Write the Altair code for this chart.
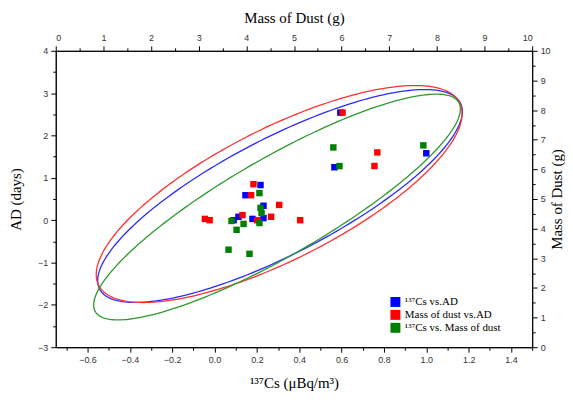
import altair as alt
import numpy as np
import pandas as pd

# ---- data ----
# Blue series: 137Cs vs AD
blue_cs = [0.217, 0.146, 0.231, 0.113, 0.090, 0.179, 0.231, 0.566, 0.594, 1.000]
blue_ad = [0.83, 0.59, 0.34, 0.08, 0.00, 0.03, 0.05, 1.25, 2.54, 1.58]
# Red series: Mass of dust vs AD
red_mass = [4.15, 4.10, 4.69, 3.13, 3.23, 3.92, 4.23, 4.52, 5.13, 6.02, 6.75, 6.69]
red_ad = [0.85, 0.59, 0.36, 0.03, 0.00, 0.12, 0.00, 0.08, 0.00, 2.54, 1.60, 1.28]
# Green series: 137Cs vs Mass of dust
green_cs = [0.212, 0.217, 0.222, 0.080, 0.137, 0.104, 0.212, 0.066, 0.165, 0.590, 0.561, 0.986]
green_mass = [5.20, 4.70, 4.53, 4.26, 4.16, 3.96, 4.19, 3.29, 3.15, 6.11, 6.74, 6.81]

# confidence ellipses: centre and two conjugate semi-diameters (own units)
blue_ellipse = [0.309, 0.571, 0.861, 1.997, 0.0, 1.527]
red_ellipse = [4.69, 0.618, 3.84, 1.903, 0.0, 1.715]
green_ellipse = [0.295, 4.73, 0.866, 3.305, 0.0, 1.893]

series_names = ["\u00b9\u00b3\u2077Cs vs.AD", "Mass of dust vs.AD", "\u00b9\u00b3\u2077Cs vs. Mass of dust"]
series_colors = ["#0000ff", "#ff0000", "#008000"]
line_colors = ["#2b2bff", "#ff3030", "#2e9a2e"]

cs_ticks = [-0.6, -0.4, -0.2, 0.0, 0.2, 0.4, 0.6, 0.8, 1.0, 1.2, 1.4]
cs_minor = [-0.7, -0.5, -0.3, -0.1, 0.1, 0.3, 0.5, 0.7, 0.9, 1.1, 1.3, 1.5]
ad_ticks = [-3, -2, -1, 0, 1, 2, 3, 4]
ad_minor = [-2.5, -1.5, -0.5, 0.5, 1.5, 2.5, 3.5]
mass_ticks = [0, 1, 2, 3, 4, 5, 6, 7, 8, 9, 10]
mass_minor = [0.5, 1.5, 2.5, 3.5, 4.5, 5.5, 6.5, 7.5, 8.5, 9.5]


def ellipse_df(p):
    cx, cy, ax, ay, bx, by = p
    t = np.linspace(0, 2 * np.pi, 241)
    return pd.DataFrame({
        "i": np.arange(len(t)),
        "x": cx + ax * np.cos(t) + bx * np.sin(t),
        "y": cy + ay * np.cos(t) + by * np.sin(t),
    })


cs_scale = alt.Scale(domain=[-0.75, 1.5], nice=False, zero=False)
ad_scale = alt.Scale(domain=[-3, 4], nice=False, zero=False)
mass_scale = alt.Scale(domain=[0, 10], nice=False, zero=False)

color = alt.Color(
    "series:N",
    scale=alt.Scale(domain=series_names, range=series_colors),
    legend=alt.Legend(
        title=None, orient="none", legendX=336, legendY=247,
        symbolType="square", symbolSize=100, symbolStrokeWidth=0,
        labelFont="Liberation Serif", labelFontSize=11, labelColor="#000",
        rowPadding=1, symbolOffset=0, labelOffset=4,
    ),
)

TITLE_FONT = "Liberation Serif"


def major_axis(orient, values, title, fmt, **kw):
    return alt.Axis(orient=orient, values=values, format=fmt, title=title,
                    tickSize=5, labelPadding=3, domain=True, **kw)


def minor_axis(orient, values):
    return alt.Axis(orient=orient, values=values, labels=False, title="",
                    tickSize=3, domain=False)


# ellipses (carry the minor tick axes)
ell_blue = alt.Chart(ellipse_df(blue_ellipse)).mark_line(
    color=line_colors[0], strokeWidth=1.3).encode(
    x=alt.X("x:Q", scale=cs_scale, axis=minor_axis("bottom", cs_minor)),
    y=alt.Y("y:Q", scale=ad_scale, axis=minor_axis("left", ad_minor)),
    order="i:Q",
)
ell_red = alt.Chart(ellipse_df(red_ellipse)).mark_line(
    color=line_colors[1], strokeWidth=1.3).encode(
    x=alt.X("x:Q", scale=mass_scale, axis=minor_axis("top", mass_minor)),
    y=alt.Y("y:Q", scale=ad_scale, axis=None),
    order="i:Q",
)
ell_green = alt.Chart(ellipse_df(green_ellipse)).mark_line(
    color=line_colors[2], strokeWidth=1.3).encode(
    x=alt.X("x:Q", scale=cs_scale, axis=None),
    y=alt.Y("y:Q", scale=mass_scale, axis=minor_axis("right", mass_minor)),
    order="i:Q",
)

blue_df = pd.DataFrame({"x": blue_cs, "y": blue_ad, "series": series_names[0]})
red_df = pd.DataFrame({"x": red_mass, "y": red_ad, "series": series_names[1]})
green_df = pd.DataFrame({"x": green_cs, "y": green_mass, "series": series_names[2]})

pts_blue = alt.Chart(blue_df).mark_square(size=42, opacity=1).encode(
    x=alt.X("x:Q", scale=cs_scale,
            axis=major_axis("bottom", cs_ticks, "\u00b9\u00b3\u2077Cs (\u03bcBq/m\u00b3)", ".1f",
                            titlePadding=12)),
    y=alt.Y("y:Q", scale=ad_scale,
            axis=major_axis("left", ad_ticks, "AD (days)", "d", titlePadding=14)),
    color=color,
)
pts_red = alt.Chart(red_df).mark_square(size=42, opacity=1).encode(
    x=alt.X("x:Q", scale=mass_scale,
            axis=major_axis("top", mass_ticks, "Mass of Dust (g)", "d", titlePadding=8)),
    y=alt.Y("y:Q", scale=ad_scale, axis=None),
    color=color,
)
pts_green = alt.Chart(green_df).mark_square(size=42, opacity=1).encode(
    x=alt.X("x:Q", scale=cs_scale, axis=None),
    y=alt.Y("y:Q", scale=mass_scale,
            axis=major_axis("right", mass_ticks, "Mass of Dust  (g)", "d",
                            titlePadding=14, titleAngle=270)),
    color=color,
)

chart = alt.layer(ell_blue, ell_red, ell_green, pts_blue, pts_red, pts_green).resolve_scale(
    x="independent", y="independent", color="shared"
).properties(
    width=479, height=298, padding={"left": 0, "top": 2, "right": 0, "bottom": 0},
    background="white",
).configure_view(
    stroke="black", strokeWidth=1
).configure_axis(
    grid=False,
    labelFont="Liberation Sans", labelFontSize=9, labelColor="#333333",
    titleFont=TITLE_FONT, titleFontSize=15, titleFontWeight="normal", titleColor="#000",
    domainColor="#000", tickColor="#000", domainWidth=1, tickWidth=1,
)

chart.save("out.html", embed_options={"renderer": "svg", "actions": False})
